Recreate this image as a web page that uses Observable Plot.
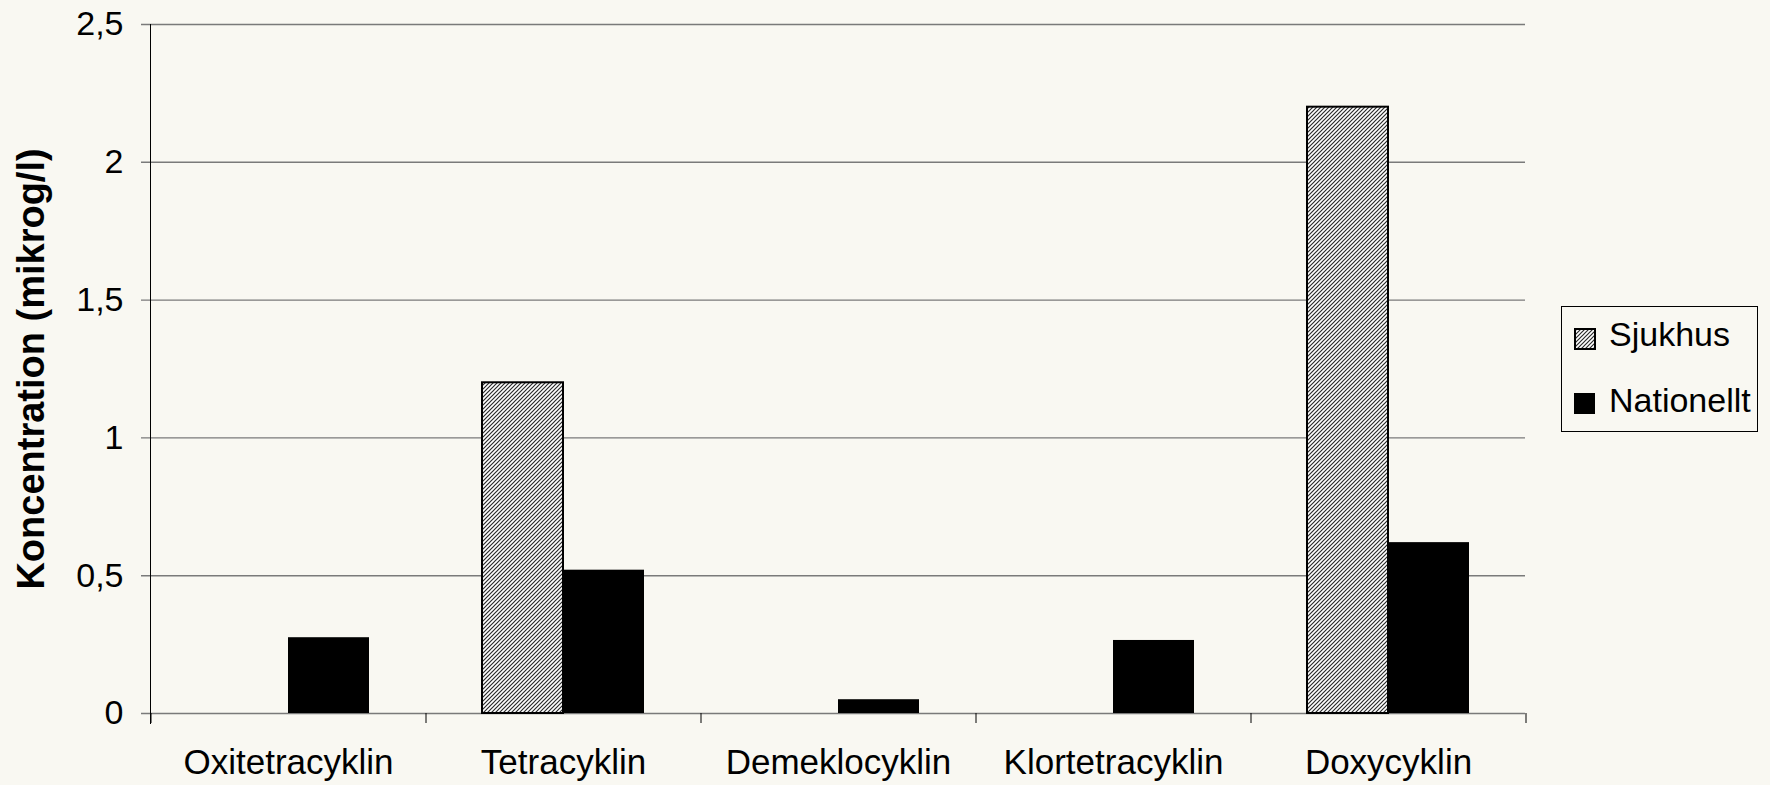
<!DOCTYPE html>
<html>
<head>
<meta charset="utf-8">
<script src="https://cdn.jsdelivr.net/npm/d3@7"></script>
<script src="https://cdn.jsdelivr.net/npm/@observablehq/plot@0.6"></script>
<style>
  html, body { margin: 0; padding: 0; background: #f9f8f2; }
  #wrap { position: relative; width: 1770px; height: 785px; font-family: Arial, "Liberation Sans", sans-serif; }
  #legend { position: absolute; left: 1561px; top: 306px; width: 197px; height: 126px; box-sizing: border-box; border: 1px solid #000; }
  #legend .row { position: absolute; left: 0; font-size: 34px; line-height: 34px; color: #000; white-space: nowrap; }
  #legend .sw { position: absolute; }
  #legend .lab { position: absolute; left: 47px; }
</style>
</head>
<body>
<div id="wrap">
  <svg width="0" height="0" style="position:absolute">
    <defs>
      <pattern id="hatch" patternUnits="userSpaceOnUse" width="4" height="4">
        <rect width="4" height="4" fill="#ffffff"></rect>
        <path d="M-1,1 L1,-1 M0,4 L4,0 M3,5 L5,3" stroke="#2a2a2a" stroke-width="1.2"></path>
      </pattern>
    </defs>
  </svg>
  <div id="chart"></div>
  <div id="legend"></div>
</div>
<script>
// ---- data ----
const categories = ["Oxitetracyklin", "Tetracyklin", "Demeklocyklin", "Klortetracyklin", "Doxycyklin"];
const sjukhus    = [0, 1.2, 0, 0, 2.2];
const nationellt = [0.275, 0.52, 0.05, 0.265, 0.62];
const seriesNames = ["Sjukhus", "Nationellt"];
const yTicks = [0, 0.5, 1, 1.5, 2, 2.5];
const yLabel = "Koncentration (mikrog/l)";

// ---- layout ----
const W = 1770, H = 785;
const mL = 150, mR = 245, mT = 24, mB = 72;
const step = (W - mL - mR) / categories.length;
const barW = 81;
const padInner = 1 - (2 * barW) / step;

const rows = categories.map((c, i) => ({cat: c, s: sjukhus[i], n: nationellt[i]}));
const font = "Arial, 'Liberation Sans', sans-serif";

const chart = Plot.plot({
  width: W, height: H,
  marginLeft: mL, marginRight: mR, marginTop: mT, marginBottom: mB,
  style: {background: "transparent", fontFamily: font, fontSize: "34px", color: "#000", overflow: "visible"},
  x: {domain: categories, paddingInner: padInner, paddingOuter: padInner / 2, align: 0.5, axis: null},
  y: {domain: [0, 2.5], axis: null},
  marks: [
    Plot.ruleY(yTicks, {stroke: "#7a7a7a", strokeWidth: 1.4, insetLeft: -9}),
    Plot.barY(rows.filter(d => d.s > 0), {x: "cat", y: "s", fill: "url(#hatch)", stroke: "#000", strokeWidth: 2, insetRight: barW}),
    Plot.barY(rows.filter(d => d.n > 0), {x: "cat", y: "n", fill: "#000", insetLeft: barW}),
    Plot.frame({anchor: "left", stroke: "#000", strokeWidth: 1, insetBottom: -10}),
    Plot.ruleX(categories, {x: d => d, y1: 0, y2: 0, dx: -step / 2, insetBottom: -10, stroke: "#000", strokeWidth: 1}),
    Plot.ruleX(categories.slice(-1), {x: d => d, y1: 0, y2: 0, dx: step / 2, insetBottom: -10, stroke: "#000", strokeWidth: 1}),
    Plot.axisY({ticks: yTicks, tickFormat: d => String(d).replace(".", ","), tickSize: 0, tickPadding: 27, fontSize: 34, label: null}),
    Plot.axisX({tickSize: 0, tickPadding: 36, fontSize: 35, label: null}),
    Plot.text([yLabel], {text: d => d, frameAnchor: "left", textAnchor: "middle", lineAnchor: "middle", rotate: -90, dx: -119, dy: 0, fontWeight: "bold", fontSize: 38, fill: "#000"})
  ]
});
document.getElementById("chart").appendChild(chart);

// ---- legend ----
const legend = document.getElementById("legend");
const legendItems = [
  {name: seriesNames[0], fill: "url(#hatch)", stroke: "#000", sw: 2, top: 10, swTop: 11, size: 22},
  {name: seriesNames[1], fill: "#000", stroke: "none", sw: 0, top: 76, swTop: 76, size: 21}
];
legendItems.forEach(it => {
  const row = document.createElement("div");
  row.className = "row";
  row.style.top = "0px";
  row.style.width = "100%";
  const s = `<svg class="sw" style="left:12px;top:${it.swTop + 10}px" width="${it.size}" height="${it.size}">
      <rect x="${it.sw/2}" y="${it.sw/2}" width="${it.size - it.sw}" height="${it.size - it.sw}" fill="${it.fill}" stroke="${it.stroke}" stroke-width="${it.sw}"></rect></svg>`;
  row.innerHTML = s + `<span class="lab" style="top:${it.top}px">${it.name}</span>`;
  legend.appendChild(row);
});
</script>
</body>
</html>
